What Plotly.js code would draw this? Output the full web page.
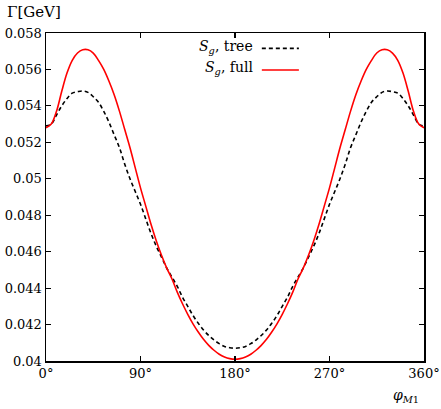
<!DOCTYPE html>
<html>
<head>
<meta charset="utf-8">
<script src="https://cdn.plot.ly/plotly-3.0.1.min.js"></script>
<style>
  html, body { margin: 0; padding: 0; background: #fff; }
  #chart { width: 441px; height: 409px; }
</style>
</head>
<body>
<div id="chart"></div>
<script>
// angle phi_M1 in degrees
const phi = [0, 5, 10, 15, 20, 25, 30, 35, 40, 45, 50, 55, 60, 65, 70, 75, 80, 85, 90,
  95, 100, 105, 110, 115, 120, 125, 130, 135, 140, 145, 150, 155, 160, 165, 170, 175, 180,
  185, 190, 195, 200, 205, 210, 215, 220, 225, 230, 235, 240, 245, 250, 255, 260, 265, 270,
  275, 280, 285, 290, 295, 300, 305, 310, 315, 320, 325, 330, 335, 340, 345, 350, 355, 360]

// S_g, full (GeV)
const gammaFull = [0.0528, 0.0530, 0.0537, 0.0548, 0.0558, 0.0565, 0.0569, 0.05708, 0.05708, 0.0569,
  0.0565, 0.0560, 0.05535, 0.0546, 0.0537, 0.0527, 0.0517, 0.0506, 0.0495,
  0.0485, 0.0475, 0.0466, 0.0458, 0.0451, 0.0445, 0.04378, 0.04314, 0.04256, 0.04204, 0.04159,
  0.04119, 0.04086, 0.04059, 0.04037, 0.04022, 0.04013, 0.0401,
  0.04013, 0.04022, 0.04037, 0.04059, 0.04086, 0.04119, 0.04159, 0.04204, 0.04256, 0.04314, 0.04378,
  0.0445, 0.0451, 0.0458, 0.0466, 0.0475, 0.0485, 0.0495,
  0.0506, 0.0517, 0.0527, 0.0537, 0.0546, 0.05535, 0.0560, 0.0565, 0.0569, 0.05708, 0.05708,
  0.0569, 0.0565, 0.0558, 0.0548, 0.0537, 0.0530, 0.0528]

// S_g, tree (GeV)
const gammaTree = [0.0529, 0.0530, 0.0535, 0.0540, 0.0544, 0.0547, 0.05478, 0.05482, 0.05474, 0.0545,
  0.0542, 0.0537, 0.0531, 0.0524, 0.0517, 0.0508, 0.0500, 0.0493, 0.0486,
  0.0478, 0.0470, 0.0463, 0.0457, 0.0451, 0.0446, 0.0441, 0.0435, 0.0430, 0.0425, 0.04207,
  0.0417, 0.0414, 0.04115, 0.04095, 0.0408, 0.04073, 0.0407,
  0.04073, 0.0408, 0.04095, 0.04115, 0.0414, 0.0417, 0.04207, 0.0425, 0.0430, 0.0435, 0.0441,
  0.0446, 0.0451, 0.0457, 0.0463, 0.0470, 0.0478, 0.0486,
  0.0493, 0.0500, 0.0508, 0.0517, 0.0524, 0.0531, 0.0537, 0.0542, 0.0545, 0.05474, 0.05482,
  0.05478, 0.0547, 0.0544, 0.0540, 0.0535, 0.0530, 0.0529]

const xTicks = [0, 90, 180, 270, 360]
const xTickText = ['0°', '90°', '180°', '270°', '360°']
const yTicks = [0.04, 0.042, 0.044, 0.046, 0.048, 0.05, 0.052, 0.054, 0.056, 0.058]
const yTickText = ['0.04', '0.042', '0.044', '0.046', '0.048', '0.05', '0.052', '0.054', '0.056', '0.058']

const FONT = 'DejaVu Serif'

const tree = {
  x: phi,
  y: gammaTree,
  type: 'scatter',
  mode: 'lines',
  name: 'S_g, tree',
  line: { color: '#000', width: 1.6, dash: '4px,3px', shape: 'spline', smoothing: 1 },
  showlegend: false
}

const full = {
  x: phi,
  y: gammaFull,
  type: 'scatter',
  mode: 'lines',
  name: 'S_g, full',
  line: { color: '#ff0000', width: 1.6, shape: 'spline', smoothing: 1 },
  showlegend: false
}

const axisBase = {
  showgrid: false,
  zeroline: false,
  showline: true,
  linecolor: '#000',
  linewidth: 1.5,
  mirror: 'allticks',
  ticks: 'inside',
  ticklen: 5,
  tickwidth: 1.2,
  tickcolor: '#000',
  ticklabeloverflow: 'allow',
  tickfont: { family: FONT, size: 13, color: '#000' }
}

const layout = {
  width: 441,
  height: 409,
  margin: { l: 46, r: 17, t: 33, b: 48 },
  paper_bgcolor: '#fff',
  plot_bgcolor: '#fff',
  font: { family: FONT, size: 13, color: '#000' },
  xaxis: Object.assign({}, axisBase, {
    range: [0, 360],
    tickvals: xTicks,
    ticktext: xTickText
  }),
  yaxis: Object.assign({}, axisBase, {
    range: [0.04, 0.058],
    tickvals: yTicks,
    ticktext: yTickText
  }),
  annotations: [
    { xref: 'paper', yref: 'paper', x: -0.108, y: 1.064, xanchor: 'left', yanchor: 'middle',
      text: 'Γ[GeV]', showarrow: false, font: { family: FONT, size: 15 } },
    { xref: 'paper', yref: 'paper', x: 0.952, y: -0.108, xanchor: 'center', yanchor: 'middle',
      text: '<i>φ</i><sub><i>M</i>1</sub>', showarrow: false, font: { family: FONT, size: 14 } },
    { xref: 'paper', yref: 'paper', x: 0.553, y: 0.958, xanchor: 'right', yanchor: 'middle',
      text: '<i>S</i><sub><i>g</i></sub>, tree', showarrow: false, font: { family: FONT, size: 14 } },
    { xref: 'paper', yref: 'paper', x: 0.553, y: 0.893, xanchor: 'right', yanchor: 'middle',
      text: '<i>S</i><sub><i>g</i></sub>, full', showarrow: false, font: { family: FONT, size: 14 } }
  ],
  shapes: [
    { type: 'line', xref: 'paper', yref: 'paper', x0: 0.571, x1: 0.669, y0: 0.953, y1: 0.953,
      line: { color: '#000', width: 1.6, dash: '4px,3px' } },
    { type: 'line', xref: 'paper', yref: 'paper', x0: 0.571, x1: 0.669, y0: 0.887, y1: 0.887,
      line: { color: '#ff0000', width: 1.6 } }
  ]
}

Plotly.newPlot('chart', [tree, full], layout, { displayModeBar: false, staticPlot: true })
</script>
</body>
</html>
